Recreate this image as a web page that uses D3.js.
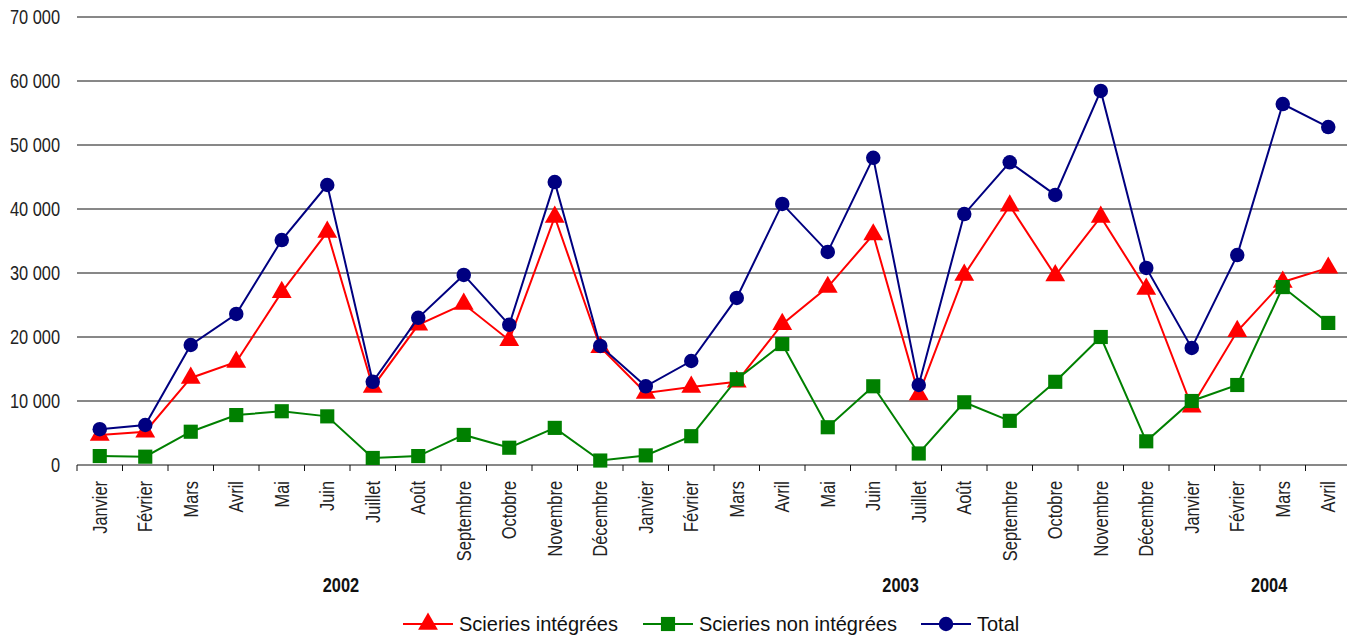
<!DOCTYPE html>
<html>
<head>
<meta charset="utf-8">
<script src="https://cdn.jsdelivr.net/npm/d3@7"></script>
<style>
  body { margin: 0; background: #fff; }
  text { font-family: "Liberation Sans", Arial, sans-serif; }
  .grid line { stroke: #111; stroke-width: 1; }
</style>
</head>
<body>
<div id="chart"></div>
<script>
// months, Jan 2002 .. Apr 2004
const months = ['Janvier','Février','Mars','Avril','Mai','Juin','Juillet','Août','Septembre','Octobre','Novembre','Décembre',
  'Janvier','Février','Mars','Avril','Mai','Juin','Juillet','Août','Septembre','Octobre','Novembre','Décembre',
  'Janvier','Février','Mars','Avril'];
const years = ['2002', '2003', '2004'];
const yTicks = [0, 10000, 20000, 30000, 40000, 50000, 60000, 70000];

const integrees = [4700, 5200, 13600, 16100, 27000, 36400, 12200, 21900, 25150, 19500, 38750, 18400,
  11250, 12200, 13000, 22000, 27800, 36000, 11000, 29700, 40500, 29600, 38750, 27500,
  9100, 20900, 28600, 30800];
const nonIntegrees = [1400, 1300, 5200, 7800, 8400, 7600, 1100, 1400, 4700, 2700, 5800, 700,
  1500, 4500, 13400, 18900, 5900, 12300, 1800, 9800, 6900, 13000, 20000, 3700,
  10000, 12500, 27800, 22200];
const total = [5600, 6250, 18750, 23600, 35150, 43750, 13000, 23000, 29700, 21900, 44200, 18600,
  12300, 16250, 26100, 40800, 33300, 48000, 12500, 39200, 47300, 42200, 58450, 30800,
  18300, 32800, 56400, 52800];

const series = [
  {name: 'Scieries intégrées', values: integrees, color: '#ff0000', symbol: d3.symbolTriangle, size: 170},
  {name: 'Scieries non intégrées', values: nonIntegrees, color: '#008000', symbol: d3.symbolSquare, size: 200},
  {name: 'Total', values: total, color: '#000080', symbol: d3.symbolCircle, size: 165}
];

const W = 1347, H = 637;
const margin = {left: 77, right: -4, top: 17, bottom: 172};
const NARROW = 0.82; // squeeze to look like Arial Narrow
const yearAt = [5.8, 18.1, 26.2]; // where the year labels sit, in month steps

const svg = d3.select('#chart').append('svg')
  .attr('width', W)
  .attr('height', H);

const x = d3.scaleBand()
  .domain(d3.range(months.length))
  .range([margin.left, W - margin.right]);

const y = d3.scaleLinear()
  .domain([0, 70000])
  .range([H - margin.bottom, margin.top]);

const fmt = v => d3.format(',')(v).replace(/,/g, ' ');

// gridlines
svg.append('g')
  .attr('class', 'grid')
  .selectAll('line')
  .data(yTicks.filter(d => d > 0))
  .enter()
  .append('line')
    .attr('x1', margin.left)
    .attr('x2', W)
    .attr('y1', d => y(d))
    .attr('y2', d => y(d));

// y labels
svg.append('g')
  .selectAll('text')
  .data(yTicks)
  .enter()
  .append('text')
    .attr('transform', d => `translate(60,${y(d) + 7}) scale(${NARROW},1)`)
    .attr('text-anchor', 'end')
    .attr('font-size', 20)
    .attr('fill', '#222')
    .text(fmt);

// x axis
const xAxis = svg.append('g');
xAxis.append('line')
  .attr('x1', margin.left).attr('x2', W)
  .attr('y1', y(0)).attr('y2', y(0))
  .attr('stroke', '#111');
xAxis.selectAll('.tick')
  .data(d3.range(months.length + 1))
  .enter()
  .append('line')
    .attr('x1', i => margin.left + i * x.step())
    .attr('x2', i => margin.left + i * x.step())
    .attr('y1', y(0))
    .attr('y2', y(0) + 6)
    .attr('stroke', '#111');

xAxis.selectAll('.month')
  .data(months)
  .enter()
  .append('text')
    .attr('transform', (d, i) => `translate(${x(i) + x.bandwidth() / 2 + 7},${y(0) + 16}) rotate(-90) scale(${NARROW},1)`)
    .attr('text-anchor', 'end')
    .attr('font-size', 20)
    .attr('fill', '#222')
    .text(d => d);

xAxis.selectAll('.year')
  .data(years)
  .enter()
  .append('text')
    .attr('transform', (d, i) => `translate(${margin.left + yearAt[i] * x.step()},592) scale(${NARROW},1)`)
    .attr('text-anchor', 'middle')
    .attr('font-size', 20)
    .attr('font-weight', 'bold')
    .attr('fill', '#111')
    .text(d => d);

// lines + markers
const cx = i => x(i) + x.bandwidth() / 2;
const line = d3.line().x((d, i) => cx(i)).y(d => y(d));

series.forEach(s => {
  const g = svg.append('g');
  g.append('path')
    .attr('d', line(s.values))
    .attr('fill', 'none')
    .attr('stroke', s.color)
    .attr('stroke-width', 2);
  g.selectAll('path.mk')
    .data(s.values)
    .enter()
    .append('path')
      .attr('class', 'mk')
      .attr('d', d3.symbol().type(s.symbol).size(s.size))
      .attr('transform', (d, i) => `translate(${cx(i)},${y(d)})`)
      .attr('fill', s.color);
});

// legend
const legendX = [403, 643, 921];
const legend = svg.append('g')
  .selectAll('g')
  .data(series)
  .enter()
  .append('g')
    .attr('transform', (d, i) => `translate(${legendX[i]},${624})`);
legend.append('line')
  .attr('x1', 0).attr('x2', 50)
  .attr('stroke', d => d.color)
  .attr('stroke-width', 2);
legend.append('path')
  .attr('d', d => d3.symbol().type(d.symbol).size(d.size)())
  .attr('transform', 'translate(25,0)')
  .attr('fill', d => d.color);
legend.append('text')
  .attr('x', 56)
  .attr('y', 7)
  .attr('font-size', 20)
  .attr('fill', '#111')
  .text(d => d.name);
</script>
</body>
</html>
